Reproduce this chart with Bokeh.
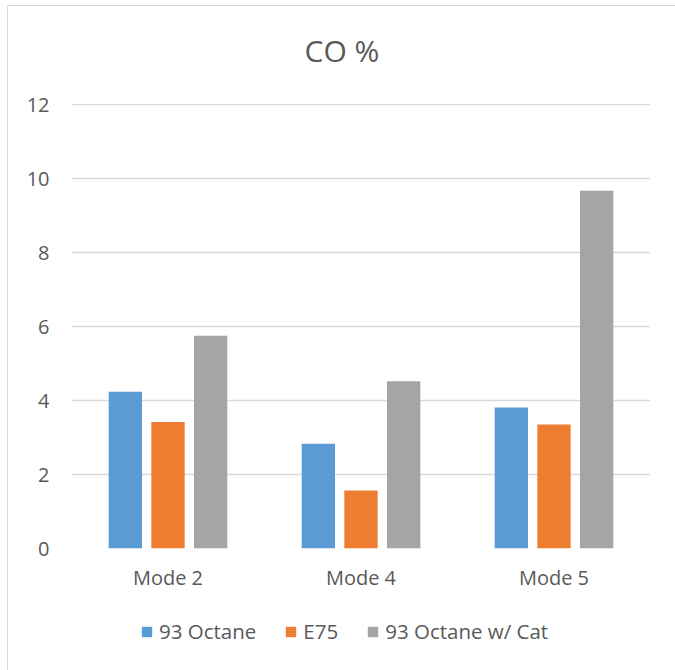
from bokeh.plotting import figure
from bokeh.layouts import column
from bokeh.models import (ColumnDataSource, FactorRange, Range1d, Legend, LegendItem,
                          FixedTicker, Label)
from bokeh.transform import dodge
from bokeh.embed import file_html
from bokeh.resources import INLINE

# Chart data
modes = ["Mode 2", "Mode 4", "Mode 5"]
octane_93 = [4.24, 2.83, 3.81]
e75 = [3.42, 1.57, 3.35]
octane_93_cat = [5.75, 4.52, 9.67]
series_names = ["93 Octane", "E75", "93 Octane w/ Cat"]
y_ticks = [0, 2, 4, 6, 8, 10, 12]
chart_title = "CO %"

colors = ["#5b9bd5", "#ed7d31", "#a5a5a5"]
text_color = "#595959"
grid_color = "#d9d9d9"
font = "Open Sans"

source = ColumnDataSource(dict(mode=modes, s0=octane_93, s1=e75, s2=octane_93_cat))
keys = ["s0", "s1", "s2"]
offsets = [-0.221, 0.0, 0.221]
bar_width = 0.1727

PAD_L, PAD_R = 63, 25


def strip(height, x_range, y_range):
    """A bare figure used for the title and legend rows."""
    f = figure(width=667, height=height, x_range=x_range, y_range=y_range,
               output_backend="svg", toolbar_location=None, title=None,
               x_axis_type=None, y_axis_type=None,
               min_border_left=PAD_L, min_border_right=PAD_R,
               min_border_top=0, min_border_bottom=0,
               outline_line_color=None,
               background_fill_color="white", border_fill_color="white")
    f.xgrid.grid_line_color = None
    f.ygrid.grid_line_color = None
    return f


# title row
top = strip(80, Range1d(0, 579), Range1d(0, 80))
top.add_layout(Label(x=270.5, y=36, text=chart_title, text_font=font,
                     text_font_size="30px", text_color=text_color,
                     text_align="center", text_baseline="alphabetic"))

# main bar chart
p = figure(
    width=667, height=514, title=None,
    x_range=FactorRange(factors=modes, range_padding=0),
    y_range=Range1d(0, 12.03),
    output_backend="svg", toolbar_location=None,
    min_border_left=PAD_L, min_border_right=PAD_R, min_border_top=17, min_border_bottom=52,
    outline_line_color=None, background_fill_color="white", border_fill_color="white",
)

for i, key in enumerate(keys):
    p.vbar(x=dodge("mode", offsets[i], range=p.x_range), top=key, width=bar_width,
           source=source, fill_color=colors[i], line_color=None)

p.xaxis.axis_line_color = None
p.xaxis.major_tick_line_color = None
p.xaxis.minor_tick_line_color = None
p.xaxis.major_label_text_font = font
p.xaxis.major_label_text_font_size = "20px"
p.xaxis.major_label_text_color = text_color
p.xaxis.major_label_standoff = 9

p.yaxis.ticker = FixedTicker(ticks=y_ticks)
p.yaxis.axis_line_color = None
p.yaxis.major_tick_line_color = None
p.yaxis.minor_tick_line_color = None
p.yaxis.major_label_text_font = font
p.yaxis.major_label_text_font_size = "20px"
p.yaxis.major_label_text_color = text_color
p.yaxis.major_label_standoff = 16

p.xgrid.grid_line_color = None
p.ygrid.grid_line_color = grid_color
p.ygrid.grid_line_width = 1.5

# legend row: same bar series, with this row's y span set far above the bar values
lg = strip(70, p.x_range, Range1d(500, 501))
swatches = [lg.vbar(x=dodge("mode", offsets[i], range=p.x_range), top=key,
                    width=bar_width, source=source, fill_color=colors[i], line_color=None)
            for i, key in enumerate(keys)]

legend = Legend(
    items=[LegendItem(label=n, renderers=[r]) for n, r in zip(series_names, swatches)],
    orientation="horizontal", location=(69, 25),
    label_text_font=font, label_text_font_size="20.5px", label_text_color=text_color,
    glyph_width=13, glyph_height=13, label_height=13, label_standoff=6, spacing=28,
    padding=0, margin=0, border_line_color=None, background_fill_alpha=0,
)
lg.add_layout(legend, "center")

layout = column(top, p, lg, spacing=0, margin=(5, 0, 0, 7))
layout.styles = {"border-left": f"1px solid {grid_color}",
                 "border-top": f"1px solid {grid_color}"}

open("out.html", "w").write(file_html(layout, INLINE))
